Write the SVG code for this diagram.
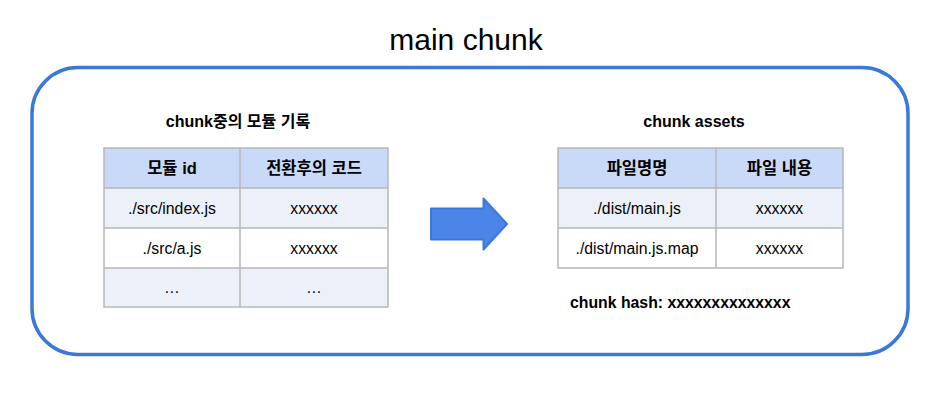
<svg xmlns="http://www.w3.org/2000/svg" width="948" height="405" viewBox="0 0 948 405">
<style>
text{font-family:"Liberation Sans","Noto Sans CJK KR",Arial,sans-serif;fill:#000}
.t{font-size:15.8px;text-anchor:middle}
.h{font-size:16.5px;font-weight:bold;text-anchor:middle}
.cap{font-size:16px;font-weight:bold;text-anchor:middle}
.hd{fill:#c9daf8}
.lt{fill:#ecf1f9}
.wh{fill:#ffffff}
.ln{stroke:#b7b7b7;stroke-width:1.5;fill:none}
</style>
<rect width="948" height="405" fill="#ffffff"/>
<g id="main-chunk">
<rect x="32" y="67.5" width="876" height="287" rx="46" ry="46" fill="none" stroke="#3c78d8" stroke-width="3.5"/>
<text x="466" y="50" style="font-size:30px;text-anchor:middle">main chunk</text>
</g>
<g id="modules-table">
<text class="cap" x="238" y="127">chunk중의 모듈 기록</text>
<rect class="hd" x="104" y="148" width="284" height="40"/>
<rect class="lt" x="104" y="188" width="284" height="40"/>
<rect class="wh" x="104" y="228" width="284" height="40"/>
<rect class="lt" x="104" y="268" width="284" height="39"/>
<path class="ln" d="M104 148H388V307H104Z M104 188H388 M104 228H388 M104 268H388 M240 148V307"/>
<text class="h" x="172" y="174">모듈 id</text>
<text class="h" x="314" y="174">전환후의 코드</text>
<text class="t" x="172" y="214">./src/index.js</text>
<text class="t" x="314" y="214">xxxxxx</text>
<text class="t" x="172" y="254">./src/a.js</text>
<text class="t" x="314" y="254">xxxxxx</text>
<text class="t" x="172" y="293">…</text>
<text class="t" x="314" y="293">…</text>
</g>
<g id="connectors">
<path d="M431 208.5H483.5V198.5L507 224L483.5 249.5V239.5H431Z" fill="#4a86e8" stroke="#3c78d8" stroke-width="2" stroke-linejoin="round"/>
</g>
<g id="assets-table">
<text class="cap" x="694" y="127">chunk assets</text>
<rect class="hd" x="558" y="148" width="285" height="40"/>
<rect class="lt" x="558" y="188" width="285" height="40"/>
<rect class="wh" x="558" y="228" width="285" height="40"/>
<path class="ln" d="M558 148H843V268H558Z M558 188H843 M558 228H843 M716 148V268"/>
<text class="h" x="637" y="174">파일명명</text>
<text class="h" x="779.5" y="174">파일 내용</text>
<text class="t" x="637" y="214">./dist/main.js</text>
<text class="t" x="779.5" y="214">xxxxxx</text>
<text class="t" x="637" y="254">./dist/main.js.map</text>
<text class="t" x="779.5" y="254">xxxxxx</text>
</g>
<g id="chunk-hash">
<text x="570" y="308" style="font-size:15.8px;font-weight:bold">chunk hash: xxxxxxxxxxxxxx</text>
</g>
</svg>
